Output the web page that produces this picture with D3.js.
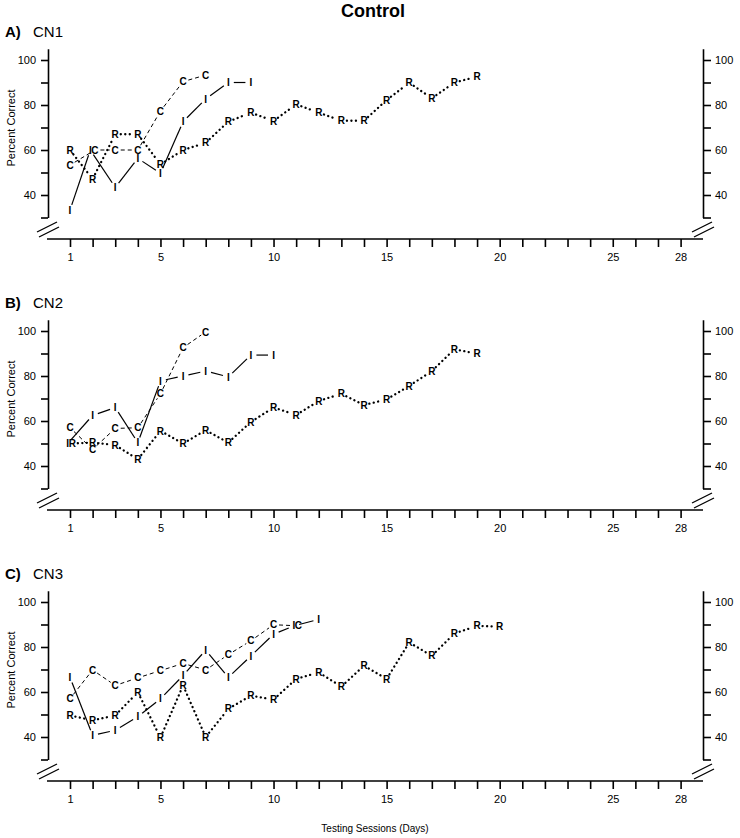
<!DOCTYPE html>
<html>
<head>
<meta charset="utf-8">
<script src="https://cdn.jsdelivr.net/npm/d3@7"></script>
<style>
  body { margin: 0; background: #fff; }
  svg { display: block; }
</style>
</head>
<body>
<div id="chart"></div>
<script>
// values, index 0 = session 1
var cn1C = [53.3, 60, 60, 60, 77.3, 90.4, 93.3];
var cn1I = [33.3, 60, 43.4, 56.3, 49.6, 72.6, 82.7, 90, 90];
var cn1R = [60, 47.1, 67, 67, 53.6, 60, 63.2, 72.6, 76.6, 72.9, 80.3, 76.6, 73, 73, 82.2, 89.9, 83, 90, 92.6];

var cn2C = [57, 47.4, 56.7, 57, 72.1, 92.6, 99.6];
var cn2I = [50, 62.5, 66, 50.4, 77.8, 80, 82.2, 79.6, 89.3, 89.3];
var cn2R = [50, 50.4, 49.3, 43, 55.6, 50, 55.9, 50.4, 59.6, 66, 62.7, 68.9, 72.1, 67.1, 69.6, 75.6, 82.2, 91.9, 89.9];

var cn3C = [57, 69.8, 62.9, 66.3, 69.5, 72.7, 69.8, 76.6, 82.8, 89.9, 89.4];
var cn3I = [66.5, 40.7, 43, 49, 57, 67.3, 78.6, 66.5, 76, 85.7, 89.4, 92.3];
var cn3R = [49.6, 47.4, 49.6, 59.9, 39.7, 62.9, 40, 52.5, 58.4, 56.6, 65.8, 68.7, 62.4, 71.7, 65.8, 82, 76.1, 86, 89.4, 89];

var panelLabels = ["A)", "B)", "C)"];
var panelNames = ["CN1", "CN2", "CN3"];
var yTicks = [30, 40, 50, 60, 70, 80, 90, 100];
var yLabeled = [40, 60, 80, 100];
var xLabeled = [1, 5, 10, 15, 20, 25, 28];

var panels = [
  {label: panelLabels[0], name: panelNames[0], C: cn1C, I: cn1I, R: cn1R},
  {label: panelLabels[1], name: panelNames[1], C: cn2C, I: cn2I, R: cn2R},
  {label: panelLabels[2], name: panelNames[2], C: cn3C, I: cn3I, R: cn3R}
];

var width = 740, height = 838;
var font = "'Liberation Sans', Arial, Helvetica, sans-serif";
var leftX = 48, rightX = 703;
var panelTop = [60, 331, 602];   // pixel y of the 100 tick in each panel

// line style per letter
var styles = {
  I: {dash: null, width: 1.2, cap: "butt"},
  C: {dash: "4,3", width: 1, cap: "butt"},
  R: {dash: "0.1,4.4", width: 2.3, cap: "round"}
};
var order = ["I", "C", "R"];

var svg = d3.select("#chart").append("svg")
  .attr("width", width)
  .attr("height", height)
  .attr("font-family", font);

svg.append("text")
  .attr("x", 373).attr("y", 17)
  .attr("text-anchor", "middle")
  .attr("font-size", 18).attr("font-weight", "bold")
  .text("Control");

svg.append("text")
  .attr("x", 375).attr("y", 832)
  .attr("text-anchor", "middle")
  .attr("font-size", 10)
  .text("Testing Sessions (Days)");

var x = d3.scaleLinear().domain([1, 28]).range([70, 680.6]);

panels.forEach(function(p, pi) {
  var top = panelTop[pi];
  var y = d3.scaleLinear().domain([30, 105]).range([top + 157.5, top - 11.25]);
  var axisY = top + 179;
  var g = svg.append("g");

  // panel title
  var t = g.append("text").attr("x", 5).attr("y", top - 23).attr("font-size", 15);
  t.append("tspan").attr("font-weight", "bold").text(p.label);
  t.append("tspan").attr("x", 33).text(p.name);

  g.append("text")
    .attr("transform", "translate(15," + (top + 68) + ") rotate(-90)")
    .attr("text-anchor", "middle")
    .attr("font-size", 11)
    .text("Percent Correct");

  // y axes both sides
  var yFmt = function(d) { return yLabeled.indexOf(d) >= 0 ? d : ""; };
  var la = g.append("g").attr("transform", "translate(" + leftX + ",0)")
    .call(d3.axisLeft(y).tickValues(yTicks).tickSize(7).tickSizeOuter(0).tickPadding(5).tickFormat(yFmt));
  var ra = g.append("g").attr("transform", "translate(" + rightX + ",0)")
    .call(d3.axisRight(y).tickValues(yTicks).tickSize(8).tickSizeOuter(0).tickPadding(4).tickFormat(yFmt));

  // x axis
  var xa = g.append("g").attr("transform", "translate(0," + axisY + ")")
    .call(d3.axisBottom(x).tickValues(d3.range(1, 29)).tickSize(8).tickPadding(6)
      .tickFormat(function(d) { return xLabeled.indexOf(d) >= 0 ? d : ""; }));
  xa.select(".domain").remove();
  g.append("line")
    .attr("x1", leftX - 1).attr("x2", rightX)
    .attr("y1", axisY).attr("y2", axisY)
    .attr("stroke", "#000").attr("stroke-width", 1.6);

  [la, ra, xa].forEach(function(a) {
    a.attr("font-size", 11).attr("font-family", font);
    a.selectAll("path, line").attr("stroke", "#000").attr("stroke-width", 1.6);
    a.selectAll("text").attr("fill", "#000");
  });

  // axis breaks
  [leftX, rightX].forEach(function(bx) {
    [[-11, -7, 9, -17], [-9, -2, 11, -12]].forEach(function(s) {
      g.append("line")
        .attr("x1", bx + s[0]).attr("y1", axisY + s[1])
        .attr("x2", bx + s[2]).attr("y2", axisY + s[3])
        .attr("stroke", "#000").attr("stroke-width", 1.3);
    });
  });

  // rendered positions, side by side when two letters share a spot
  var pts = {};
  order.forEach(function(k) {
    pts[k] = p[k].map(function(v, i) { return {day: i + 1, v: v, k: k, px: x(i + 1), py: y(v)}; });
  });
  order.forEach(function(k, ki) {
    pts[k].forEach(function(d) {
      order.forEach(function(k2, k2i) {
        if (k2 === k) return;
        var o = pts[k2][d.day - 1];
        if (o && Math.abs(o.v - d.v) < 2) d.px += (ki < k2i ? -2.3 : 2.3);
      });
    });
  });

  // connecting lines, cut short around the letters
  var gap = 5.5;
  order.forEach(function(k) {
    var s = styles[k];
    var arr = pts[k];
    for (var i = 0; i < arr.length - 1; i++) {
      var a = arr[i], b = arr[i + 1];
      var dx = b.px - a.px, dy = b.py - a.py;
      var len = Math.sqrt(dx * dx + dy * dy);
      if (len <= gap * 2) continue;
      var ux = dx / len, uy = dy / len;
      var ln = g.append("line")
        .attr("x1", a.px + ux * gap).attr("y1", a.py + uy * gap)
        .attr("x2", b.px - ux * gap).attr("y2", b.py - uy * gap)
        .attr("stroke", "#000")
        .attr("stroke-width", s.width)
        .attr("stroke-linecap", s.cap);
      if (s.dash) ln.attr("stroke-dasharray", s.dash);
    }
  });

  // letter markers
  order.forEach(function(k) {
    g.selectAll(".m" + k)
      .data(pts[k])
      .enter().append("text")
      .attr("class", "m" + k)
      .attr("x", function(d) { return d.px; })
      .attr("y", function(d) { return d.py; })
      .attr("dy", "0.36em")
      .attr("text-anchor", "middle")
      .attr("font-size", 10)
      .attr("font-weight", "bold")
      .text(k);
  });
});
</script>
</body>
</html>
